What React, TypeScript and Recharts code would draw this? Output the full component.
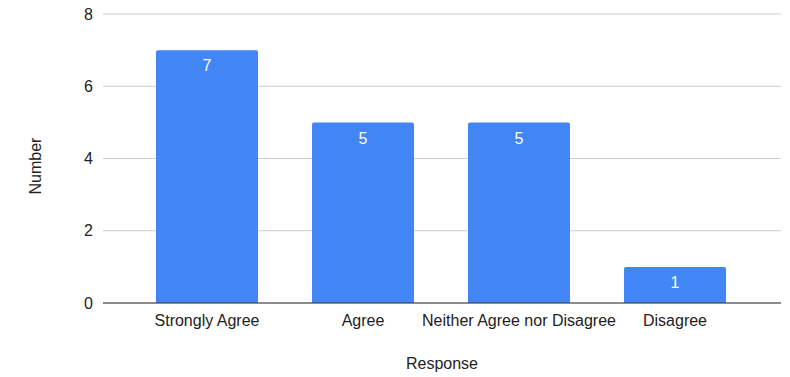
import { BarChart, Bar, XAxis, YAxis, CartesianGrid, LabelList, Label } from "recharts";

const responses = ["Strongly Agree", "Agree", "Neither Agree nor Disagree", "Disagree"];
const counts = [7, 5, 5, 1];
const yTicks = [0, 2, 4, 6, 8];

const data = responses.map((r, i) => ({ response: r, number: counts[i] }));

const font = "Arial, 'Liberation Sans', sans-serif";

export default function App() {
  return (
    <div style={{ position: "absolute", left: 0, top: 0, background: "#fff" }}>
      <BarChart
        width={790}
        height={377}
        data={data}
        margin={{ top: 14, right: 9, left: 0, bottom: 0 }}
        style={{ fontFamily: font }}
      >
        {/* horizontal grid only */}
        <CartesianGrid vertical={false} stroke="#cccccc" />
        <XAxis
          dataKey="response"
          height={74}
          padding={{ left: 26, right: 28 }}
          tickLine={false}
          tickMargin={6}
          axisLine={{ stroke: "#333333" }}
          tick={{ fontSize: 16, fill: "#222222", fontFamily: font }}
          interval={0}
        >
          <Label
            content={() => (
              <text x={442} y={369} textAnchor="middle" fontSize={16} fill="#222222" fontFamily={font}>
                Response
              </text>
            )}
          />
        </XAxis>
        <YAxis
          width={103}
          domain={[0, 8]}
          ticks={yTicks}
          tickLine={false}
          axisLine={false}
          tickMargin={4}
          tick={{ fontSize: 16, fill: "#222222", fontFamily: font }}
        >
          <Label
            content={() => (
              <text
                x={41}
                y={166}
                transform="rotate(-90 41 166)"
                textAnchor="middle"
                fontSize={16}
                fill="#222222"
                fontFamily={font}
              >
                Number
              </text>
            )}
          />
        </YAxis>
        <Bar dataKey="number" fill="#4285f4" barSize={102} radius={[2, 2, 0, 0]} isAnimationActive={false}>
          <LabelList
            dataKey="number"
            position="insideTop"
            offset={10}
            fill="#ffffff"
            fontSize={16}
            fontFamily={font}
          />
        </Bar>
      </BarChart>
    </div>
  );
}
